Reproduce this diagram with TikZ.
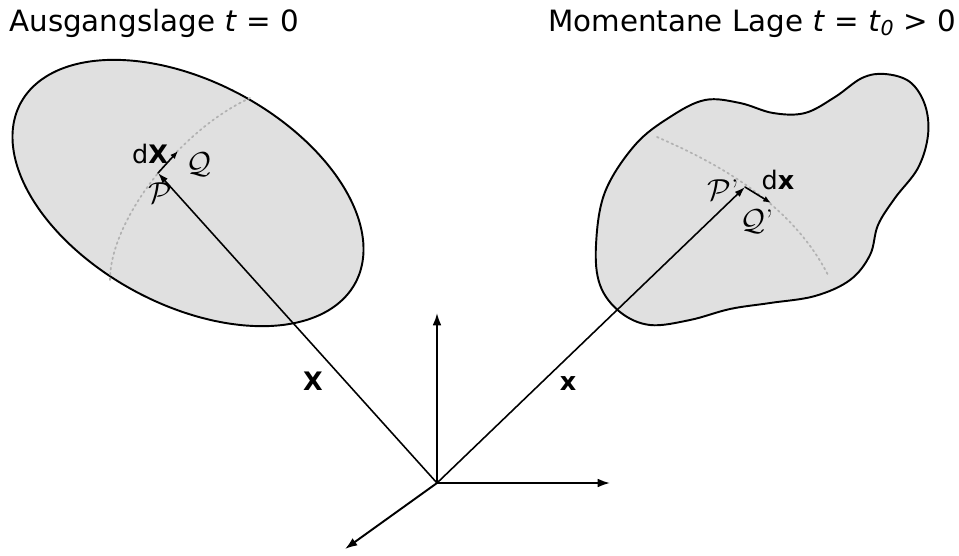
\documentclass[tikz,border=0pt]{standalone}
\usepackage{fontspec}
\newfontfamily\dejavu{DejaVu Sans}
\usetikzlibrary{arrows.meta}

\begin{document}
\begin{tikzpicture}[x=0.02cm,y=-0.02cm,line cap=round,line join=round,
  body/.style={fill=black!12,draw=black,line width=1.1pt},
  trace/.style={black!30,dotted,line width=1pt},
  vec/.style={line width=0.9pt,-{Latex[length=6pt,width=4pt]}},
  dvec/.style={line width=0.9pt,-{Latex[length=4.5pt,width=3.5pt]}},
  axis/.style={line width=1.1pt,-{Latex[length=7pt,width=5pt]}},
  title/.style={font=\dejavu\fontsize{16.7}{19}\selectfont,anchor=base west,inner sep=0pt},
  lbl/.style={font=\dejavu\bfseries\fontsize{14.5}{17}\selectfont,inner sep=1pt},
  pt/.style={font=\fontsize{17}{19}\selectfont,inner sep=1pt}]
  \useasboundingbox (0,0) rectangle (959,555);
  \coordinate (O) at (437,483);
  \coordinate (E1) at (610,483);
  \coordinate (E2) at (437,313);
  \coordinate (E3) at (345,549);
  \coordinate (P) at (158,173);
  \coordinate (Q) at (178,151);
  \coordinate (Pp) at (745,187);
  \coordinate (Qp) at (771,203);

  % Ausgangslage
  \draw[body] plot[domain=0:355,samples=72,smooth cycle,variable=\t]
    ({188+190*cos(\t)*cos(28)-110*sin(\t)*sin(28)},{193+190*cos(\t)*sin(28)+112*sin(\t)*cos(28)});
  \draw[trace] (110,280) .. controls (110,220) and (180,130) .. (250,98);

  % Momentane Lage
  \draw[body] plot[smooth cycle,tension=0.6] coordinates {(596,245) (605,192) (635,145)
    (670,117) (705,100) (740,103) (773,113) (805,113) (835,97) (862,78) (885,74)
    (910,82) (925,105) (928,135) (918,168) (895,198) (878,225) (870,255) (850,280)
    (815,296) (770,303) (730,309) (690,320) (650,325) (620,312) (600,285)};
  \draw[trace] (657,137) .. controls (710,160) and (790,200) .. (828,275);

  % Achsen
  \draw[axis] (O) -- (E1);
  \draw[axis] (O) -- (E2);
  \draw[axis] (O) -- (E3);

  % Ortsvektoren
  \draw[vec] (O) -- (P);
  \draw[vec] (O) -- (Pp);
  \draw[dvec] (P) -- (Q);
  \draw[dvec] (Pp) -- (Qp);

  \node[title] (tA) at (9,31) {Ausgangslage \textit{t} = 0};
  \node[title] (tM) at (548,31) {Momentane Lage \textit{t} = \textit{t}\textsubscript{\textit{0}} > 0};
  \node[lbl] (lX) at (313,381) {X};
  \node[lbl] (lx) at (568,384) {x};
  \node[lbl] (ldX) at (150,154) {{\mdseries d}X};
  \node[lbl] (ldx) at (778,180) {{\mdseries d}x};
  \node[pt] (lP) at (160,193) {$\mathcal{P}$};
  \node[pt] (lQ) at (199,165) {$\mathcal{Q}$};
  \node[pt] (lPp) at (723,190) {$\mathcal{P}$'};
  \node[pt] (lQp) at (757,222) {$\mathcal{Q}$'};
\end{tikzpicture}
\end{document}
